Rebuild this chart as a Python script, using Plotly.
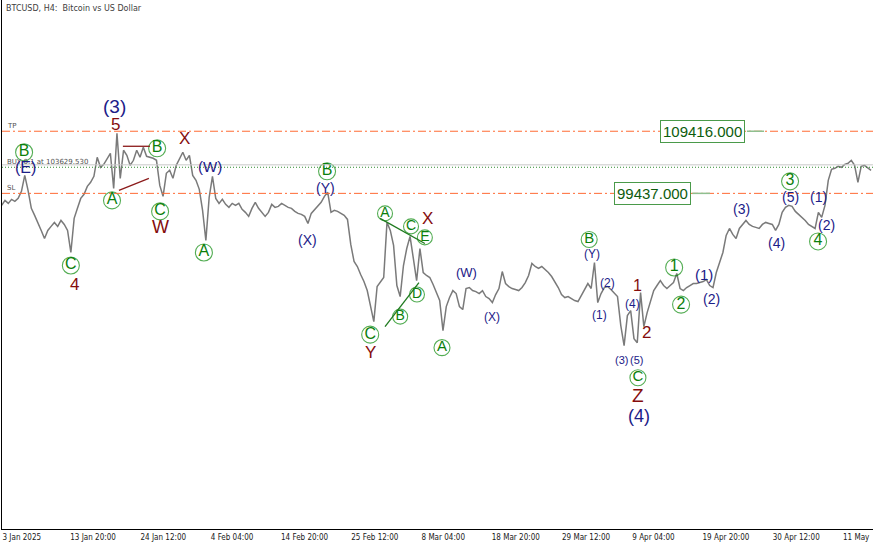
import pandas as pd
import plotly.graph_objects as go

# BTCUSD H4 closes, one value every 12 hours
start = pd.Timestamp("2025-01-03 12:00")
prices = [
    97510, 98310, 97830, 98470, 98150, 98630, 99760, 102330, 99920, 97030,
    95900, 94770, 93480, 92190, 93480, 94130, 94770, 94130, 95090, 94450,
    93480, 89940, 95420, 97030, 98630, 99280, 100560, 101210, 102170, 105230,
    103620, 104100, 105070, 105875, 100240, 109100, 101850, 106360, 105550, 103940,
    104750, 106360, 105230, 106840, 105390, 105230, 105070, 104750, 100720, 98960,
    102660, 103140, 101850, 103940, 105070, 106040, 104750, 105550, 102330, 101530,
    100080, 96700, 91870, 98790, 102170, 98630, 97830, 98470, 97670, 97190,
    97830, 97510, 97830, 96860, 96380, 95740, 97030, 97990, 97030, 96380,
    95740, 96380, 97670, 97190, 97350, 97830, 97510, 97190, 97030, 96540,
    96220, 96060, 95740, 94610, 96220, 96860, 97510, 97990, 98960, 99600,
    96380, 96700, 96540, 96220, 95900, 95250, 91230, 88490, 87690, 86400,
    85270, 83820, 81410, 78840, 84470, 85270, 85920, 94770, 93480, 91070,
    84630, 82860, 87850, 90580, 92520, 88980, 85430, 90580, 86720, 86240,
    85920, 84790, 83500, 82220, 77390, 81250, 82700, 83820, 83340, 81250,
    80770, 84150, 84310, 83820, 83660, 83340, 83820, 82860, 82540, 81890,
    83180, 84150, 86880, 84950, 84470, 84150, 83990, 83820, 84310, 85110,
    86240, 88170, 87690, 87370, 87690, 87210, 86720, 86080, 85270, 84310,
    83180, 82700, 82860, 82540, 82220, 82060, 83020, 83990, 84950, 84150,
    88330, 81890, 83340, 84310, 84470, 83990, 83500, 82860, 78190, 74970,
    79800, 80610, 76100, 75450, 83500, 78030, 80280, 82220, 83820, 84630,
    85430, 84630, 84150, 84630, 85110, 86560, 84150, 83820, 84310, 84630,
    84950, 84950, 85110, 85270, 85590, 84630, 84310, 86720, 88330, 89940,
    92680, 93800, 92840, 92190, 93800, 94450, 95090, 94450, 94130, 93970,
    93800, 94450, 94770, 94610, 94450, 93480, 94450, 96380, 97190, 97510,
    97350, 96540, 96060, 95580, 95090, 94450, 94130, 93800, 96380, 95580,
    97510, 101530, 103300, 103460, 103780, 103620, 104100, 104270, 104750, 103940,
    101210, 103780, 103940, 103460, 103140,
]

tp_level = 109416.0
sl_level = 99437.0
buy_level = 103629.53
bid_level = 104020.0

tick_times = ["2025-01-03 13:05", "2025-01-13 20:00", "2025-01-24 12:00", "2025-02-04 04:00",
              "2025-02-14 20:00", "2025-02-25 12:00", "2025-03-08 04:00", "2025-03-18 20:00",
              "2025-03-29 12:00", "2025-04-09 04:00", "2025-04-19 20:00", "2025-04-30 12:00",
              "2025-05-11 04:00"]
tick_text = ["3 Jan 2025", "13 Jan 20:00", "24 Jan 12:00", "4 Feb 04:00", "14 Feb 20:00",
             "25 Feb 12:00", "8 Mar 04:00", "18 Mar 20:00", "29 Mar 12:00", "9 Apr 04:00",
             "19 Apr 20:00", "30 Apr 12:00", "11 May"]

# wave labels: (text, position in 12h steps from start, price, font size)
navy_labels = [
    ("(3)", 34.4, 113440, 19), ("(E)", 7.1, 103620, 16), ("(W)", 63.3, 103780, 15),
    ("(Y)", 98.2, 100240, 14), ("(X)", 93.0, 91870, 14), ("(W)", 141.0, 86720, 13),
    ("(X)", 148.9, 79640, 12), ("(Y)", 179.3, 89620, 12), ("(2)", 184.1, 85110, 12),
    ("(1)", 181.4, 79960, 12), ("(4)", 191.4, 81730, 12), ("(3)", 188.1, 72720, 11),
    ("(5)", 192.9, 72720, 11), ("(4)", 193.5, 63710, 18), ("(1)", 213.3, 86400, 15),
    ("(2)", 215.4, 82540, 14), ("(3)", 224.8, 96860, 14), ("(4)", 235.4, 91390, 14),
    ("(5)", 239.4, 98790, 14), ("(1)", 247.9, 98790, 14), ("(2)", 250.6, 94290, 14),
]
red_labels = [
    ("5", 34.7, 110540, 17), ("X", 55.4, 108290, 17), ("W", 48.1, 93960, 18),
    ("4", 22.0, 84790, 17), ("X", 129.2, 95410, 17), ("Y", 111.9, 73840, 17),
    ("1", 193.2, 84630, 16), ("2", 195.7, 77070, 17), ("Z", 193.2, 66920, 19),
]
circled_labels = [
    ("B", 6.8, 106040, 17), ("A", 33.5, 98310, 17), ("B", 47.2, 106680, 17),
    ("C", 48.1, 96540, 17), ("A", 61.4, 89940, 17), ("C", 21.0, 87850, 17),
    ("B", 98.8, 102980, 17), ("A", 116.4, 96220, 15), ("C", 124.3, 94130, 15),
    ("E", 128.5, 92360, 15), ("D", 126.1, 83180, 15), ("B", 121.0, 79640, 15),
    ("C", 111.9, 76740, 17), ("A", 133.7, 74650, 16), ("B", 178.4, 92030, 16),
    ("C", 193.2, 69820, 16), ("1", 204.2, 87530, 17), ("2", 206.3, 81570, 17),
    ("3", 239.4, 101370, 17), ("4", 247.9, 91710, 17),
]

# triangle / wedge lines: (step0, price0, step1, price1, colour)
wave_lines = [
    (36.8, 107000, 45.0, 107000, "#8b1a1a"),
    (35.6, 99920, 44.7, 101850, "#8b1a1a"),
    (114.9, 95410, 128.5, 91390, "#1f7a1f"),
    (116.4, 78030, 126.7, 85110, "#1f7a1f"),
]


def t(step):
    return start + pd.Timedelta(hours=12 * step)


times = pd.date_range(start, periods=len(prices), freq="12h")

fig = go.Figure()
fig.add_trace(go.Scatter(x=times, y=prices, mode="lines",
                         line=dict(color="#7a7a7a", width=1.5), hoverinfo="skip"))

fig.add_trace(go.Scatter(
    x=[t(c[1]) for c in circled_labels], y=[c[2] for c in circled_labels],
    mode="markers+text", text=[c[0] for c in circled_labels],
    textposition="middle center",
    textfont=dict(family="Liberation Sans, Arial", size=[c[3] - 1 for c in circled_labels],
                  color="#0b7f0b"),
    marker=dict(symbol="circle-open", size=[c[3] for c in circled_labels],
                color="#0b8a0b", line=dict(width=1.1)),
    hoverinfo="skip"))

for s0, p0, s1, p1, col in wave_lines:
    fig.add_shape(type="line", x0=t(s0), y0=p0, x1=t(s1), y1=p1,
                  line=dict(color=col, width=1.3))

# TP / SL / order lines
dashdot = "8px,3px,2px,3px"
fig.add_hline(y=tp_level, line=dict(color="#ff6a33", width=1, dash=dashdot))
fig.add_hline(y=sl_level, line=dict(color="#ff6a33", width=1, dash=dashdot))
fig.add_hline(y=bid_level, line=dict(color="#c8c8c8", width=1))
fig.add_hline(y=buy_level, line=dict(color="#2e8b2e", width=1, dash="1px,2px"))

for txt, lvl in [("TP", tp_level), ("SL", sl_level), ("BUY 0.1 at 103629.530", buy_level)]:
    fig.add_annotation(x=0.004, xref="paper", y=lvl, yref="y", text=txt, showarrow=False,
                       xanchor="left", yanchor="bottom", yshift=-1,
                       font=dict(family="DejaVu Sans", size=7, color="#505050"))

# price boxes with small leader lines
for lvl, txt, step, l0, l1 in [(tp_level, "109416.000", 212.8, 226.3, 231.5),
                               (sl_level, "99437.000", 197.5, 209.7, 215.1)]:
    fig.add_shape(type="line", x0=t(l0), x1=t(l1), y0=lvl, y1=lvl,
                  line=dict(color="#8fbf8f", width=1.5))
    fig.add_annotation(x=t(step), y=lvl, text=txt, showarrow=False,
                       xanchor="center", yanchor="middle",
                       font=dict(family="Liberation Sans, Arial", size=15, color="#0d5c0d"),
                       bgcolor="white", bordercolor="#4a9a4a", borderwidth=1, borderpad=2)

for txt, step, price, size in navy_labels:
    fig.add_annotation(x=t(step), y=price, text=txt, showarrow=False,
                       xanchor="center", yanchor="middle",
                       font=dict(family="Liberation Sans, Arial", size=size, color="#1c2088"))
for txt, step, price, size in red_labels:
    fig.add_annotation(x=t(step), y=price, text=txt, showarrow=False,
                       xanchor="center", yanchor="middle",
                       font=dict(family="Liberation Sans, Arial", size=size, color="#850c0c"))

fig.add_annotation(x=0.002, xref="paper", y=1, yref="paper", yshift=-2,
                   text="BTCUSD, H4:  Bitcoin vs US Dollar", showarrow=False,
                   xanchor="left", yanchor="top",
                   font=dict(family="DejaVu Sans", size=8, color="#404040"))

fig.update_layout(
    width=873, height=545,
    margin=dict(l=2, r=0, t=0, b=16),
    paper_bgcolor="white", plot_bgcolor="white",
    showlegend=False, hovermode=False,
    xaxis=dict(type="date", range=["2025-01-03 13:05", "2025-05-15 19:00"],
               tickvals=tick_times, ticktext=tick_text, ticks="",
               ticklabelposition="outside right",
               tickfont=dict(family="DejaVu Sans Condensed, DejaVu Sans", size=8, color="#202020"),
               showline=True, linecolor="black", linewidth=1,
               showgrid=False, zeroline=False),
    yaxis=dict(range=[45518, 130500], showticklabels=False, ticks="",
               showline=True, linecolor="black", linewidth=1,
               showgrid=False, zeroline=False),
)

# the page body has a default margin; drop it so the chart fills the window
fig.write_html("out.html", config={"displayModeBar": False},
               post_script="document.body.style.margin='0';document.body.style.overflow='hidden';")
